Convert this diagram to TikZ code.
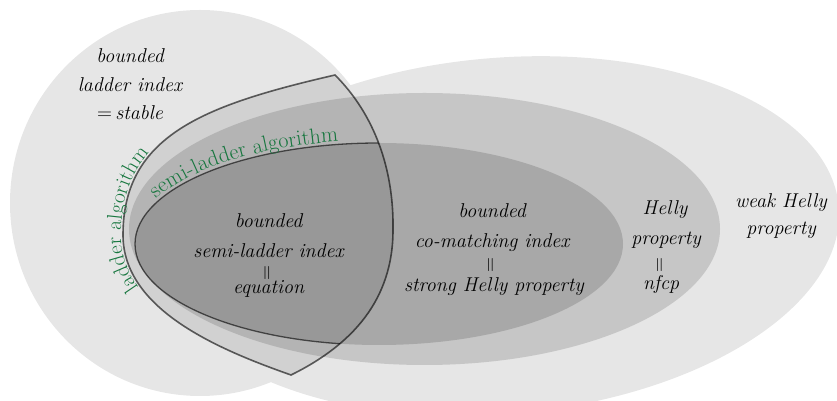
\documentclass[tikz,border=0pt]{standalone}
\usepackage{fontspec}
\usepackage{graphicx}
\usetikzlibrary{decorations.text}
\definecolor{outerg}{RGB}{230,230,230}
\definecolor{hellyg}{RGB}{198,198,198}
\definecolor{strongg}{RGB}{168,168,168}
\definecolor{algog}{RGB}{22,118,62}
\newcommand{\eqbar}{\rotatebox{90}{\fontsize{21}{21}\selectfont$=$}}
\begin{document}
\begin{tikzpicture}[x=1pt,y=1pt,
  lbl/.style={font=\fontsize{20}{30}\selectfont\itshape, inner sep=0pt, anchor=base},
  eqlbl/.style={inner sep=0pt, anchor=center},
  outline/.style={draw=black, draw opacity=0.6, line width=1.6pt, line join=miter},
  inneroutline/.style={draw=black, draw opacity=0.6, line width=1.3pt},
  lensfill/.style={fill=black, fill opacity=0.09}]
\useasboundingbox (0,0) rectangle (837,401);
\begin{scope}
  \clip (0,0) rectangle (837,401);
  \fill[outerg] (200,198) ellipse [x radius=190, y radius=193];
  \fill[outerg, shift={(500,165)}, rotate=5] (0,0) ellipse [x radius=340, y radius=178];
  \fill[hellyg] (424.5,172) ellipse [x radius=295.5, y radius=136];
  \fill[strongg] (379,157) ellipse [x radius=244, y radius=101];
\end{scope}
\coordinate (A) at (335,326);
\coordinate (M) at (393,171);
\coordinate (B) at (291,26);
\coordinate (L) at (123,166);
\coordinate (S) at (158.3,94.4);
\def\lenspath{(A) .. controls (375,286) and (394,231) .. (M) .. controls (393,101) and (352,56) .. (B) .. controls (220,51) and (123,91) .. (L) .. controls (123,266) and (205,296) .. (A) -- cycle}
\fill[lensfill] \lenspath;
\begin{scope}
  \clip \lenspath;
  \draw[inneroutline] (379,157) ellipse [x radius=244, y radius=101];
\end{scope}
\draw[outline] \lenspath;
% green labels along the curves
\path[decorate, decoration={text along path, text color=algog,
  text={|\fontsize{21.5}{21.5}\selectfont|ladder algorithm}, raise=2pt,
  text align={left indent=27pt}}]
  (S) .. controls (137,114) and (123,137.5) .. (L) .. controls (123,266) and (205,296) .. (A);
\path[decorate, decoration={text along path, text color=algog,
  text={|\fontsize{22}{22}\selectfont|semi-ladder algorithm}, raise=3pt,
  text align={left indent=7pt}}]
  (379,157) ++(158:244 and 101) arc[start angle=158, end angle=70, x radius=244, y radius=101];
% labels: stable
\node[lbl] (st1) at (130,338) {bounded};
\node[lbl] (st2) at (130,309) {ladder index};
\node[lbl] (st3) at (130,281) {$=$\,stable};
% semi-ladder
\node[lbl] (se1) at (268.5,173) {bounded};
\node[lbl] (se2) at (268.5,143) {semi-ladder index};
\node[eqlbl] (se3) at (268.5,128) {\eqbar};
\node[lbl] (se4) at (268.5,107) {equation};
% co-matching
\node[lbl] (co1) at (492,183) {bounded};
\node[lbl] (co2) at (492,153) {co-matching index};
\node[eqlbl] (co3) at (492,136) {\eqbar};
\node[lbl] (co4) at (494,109) {strong Helly property};
% Helly
\node[lbl] (he1) at (665,186) {Helly};
\node[lbl] (he2) at (666,156) {property};
\node[eqlbl] (he3) at (661,136) {\eqbar};
\node[lbl] (he4) at (661,111) {nfcp};
% weak Helly
\node[lbl] (we1) at (781,193) {weak Helly};
\node[lbl] (we2) at (781,166) {property};
\end{tikzpicture}
\end{document}
